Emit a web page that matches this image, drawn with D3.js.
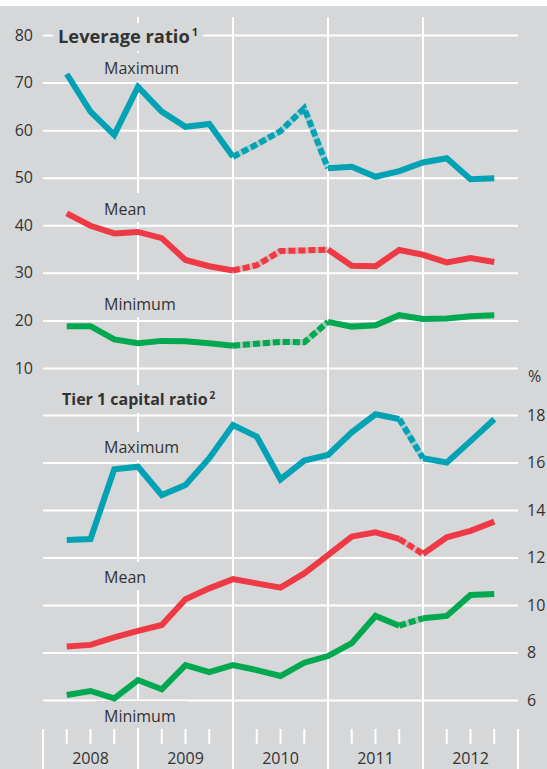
<!DOCTYPE html>
<html>
<head>
<meta charset="utf-8">
<script src="https://cdn.jsdelivr.net/npm/d3@7"></script>
<style>
  body { margin: 0; background: #fff; }
  text { font-family: "Open Sans", "Noto Sans", sans-serif; fill: #333; }
</style>
</head>
<body>
<script>
var width = 547;
var height = 769;

// quarters, Q1 2008 .. Q3 2012 (points plotted at quarter end)
var quarters = ['2008Q1', '2008Q2', '2008Q3', '2008Q4', '2009Q1', '2009Q2', '2009Q3', '2009Q4',
    '2010Q1', '2010Q2', '2010Q3', '2010Q4', '2011Q1', '2011Q2', '2011Q3', '2011Q4',
    '2012Q1', '2012Q2', '2012Q3'];
var years = [2008, 2009, 2010, 2011, 2012];

// leverage ratio
var levMax = [71.8, 63.9, 59.0, 69.1, 63.9, 60.7, 61.3, 54.4, 57.0, 59.8, 64.6, 52.0, 52.3, 50.2, 51.4, 53.2, 54.1, 49.7, 49.9];
var levMean = [42.5, 39.9, 38.3, 38.6, 37.3, 32.7, 31.4, 30.5, 31.6, 34.6, 34.7, 34.9, 31.5, 31.4, 34.8, 33.8, 32.2, 33.1, 32.3];
var levMin = [18.8, 18.8, 16.0, 15.2, 15.7, 15.6, 15.2, 14.7, 15.1, 15.5, 15.4, 19.7, 18.7, 19.0, 21.1, 20.3, 20.4, 20.9, 21.1];
var levTicks = [10, 20, 30, 40, 50, 60, 70, 80];

// tier 1 capital ratio
var t1Max = [12.74, 12.78, 15.71, 15.82, 14.63, 15.05, 16.18, 17.58, 17.09, 15.29, 16.08, 16.32, 17.27, 18.03, 17.83, 16.18, 16.0, 16.9, 17.82];
var t1Mean = [8.25, 8.32, 8.64, 8.91, 9.16, 10.24, 10.70, 11.09, 10.91, 10.73, 11.33, 12.1, 12.88, 13.06, 12.78, 12.15, 12.85, 13.12, 13.51];
var t1Min = [6.21, 6.38, 6.07, 6.84, 6.45, 7.47, 7.17, 7.47, 7.26, 7.01, 7.57, 7.85, 8.39, 9.54, 9.13, 9.44, 9.54, 10.42, 10.46];
var t1Ticks = [6, 8, 10, 12, 14, 16, 18];

// break (estimated) segments, index from..to
var levBreak = [7, 11];
var t1Break = [14, 15];

var colors = { max: '#00a2b3', mean: '#ee3a45', min: '#00a850' };
var bg = '#d6d7d9';

var svg = d3.select('body')
    .append('svg')
    .attr('width', width)
    .attr('height', height);

svg.append('rect')
    .attr('x', 0).attr('y', 6)
    .attr('width', width).attr('height', height - 6)
    .attr('fill', bg);

var x = d3.scaleLinear().domain([2008, 2013]).range([43, 518]);
var yTop = d3.scaleLinear().domain([10, 80]).range([368, 35]);
var yBot = d3.scaleLinear().domain([6, 18]).range([700, 415]);

function qx(q) {
    return x(+q.slice(0, 4) + (+q.slice(5)) / 4);
}

// horizontal grid + tick labels
var axTop = svg.append('g')
    .attr('transform', 'translate(' + x(2013) + ',0)')
    .call(d3.axisLeft(yTop).tickValues(levTicks).tickSize(x(2013) - x(2008)).tickPadding(10));
var axBot = svg.append('g')
    .attr('transform', 'translate(' + x(2008) + ',0)')
    .call(d3.axisRight(yBot).tickValues(t1Ticks).tickSize(x(2013) - x(2008)).tickPadding(9));

[axTop, axBot].forEach(function (g) {
    g.select('.domain').remove();
    g.selectAll('.tick line').attr('stroke', '#fff').attr('stroke-width', 2);
    g.selectAll('.tick text')
        .style('font-size', '16px')
        .style('font-family', '"Open Sans", sans-serif')
        .attr('fill', '#333');
});

// year separators
svg.selectAll('line.year')
    .data(years.slice(1))
    .enter()
    .append('line')
    .attr('x1', function (d) { return x(d); })
    .attr('x2', function (d) { return x(d); })
    .attr('y1', 17)
    .attr('y2', height)
    .attr('stroke', '#fff')
    .attr('stroke-width', 2);

// bottom ticks
var qTicks = d3.range(0, 21).map(function (i) { return 2008 + i / 4; });
svg.selectAll('line.qtick')
    .data(qTicks)
    .enter()
    .append('line')
    .attr('x1', function (d) { return x(d); })
    .attr('x2', function (d) { return x(d); })
    .attr('y1', 729)
    .attr('y2', function (d, i) { return i % 4 === 0 ? height : 744; })
    .attr('stroke', '#fff')
    .attr('stroke-width', 2);

svg.selectAll('text.year')
    .data(years)
    .enter()
    .append('text')
    .attr('x', function (d) { return x(d + 0.5); })
    .attr('y', 764)
    .attr('text-anchor', 'middle')
    .style('font-size', '16px')
    .text(function (d) { return d; });

svg.append('text')
    .attr('x', 528)
    .attr('y', 382)
    .style('font-size', '16px')
    .text('%');

// label boxes (knock out grid behind labels)
var labels = [
    { text: 'Maximum', x: 104, y: 74, box: [95, 53, 92, 28] },
    { text: 'Mean', x: 104, y: 215, box: [95, 193, 92, 29] },
    { text: 'Minimum', x: 104, y: 310, box: [95, 280, 92, 37] },
    { text: 'Maximum', x: 104, y: 453, box: [95, 432, 92, 28] },
    { text: 'Mean', x: 104, y: 583, box: [95, 562, 92, 28] },
    { text: 'Minimum', x: 104, y: 722, box: [95, 701, 92, 27] }
];

svg.selectAll('rect.lbox')
    .data(labels)
    .enter()
    .append('rect')
    .attr('x', function (d) { return d.box[0]; })
    .attr('y', function (d) { return d.box[1]; })
    .attr('width', function (d) { return d.box[2]; })
    .attr('height', function (d) { return d.box[3]; })
    .attr('fill', bg);

svg.append('rect').attr('x', 53).attr('y', 23).attr('width', 150).attr('height', 28).attr('fill', bg);
svg.append('rect').attr('x', 53).attr('y', 385).attr('width', 172).attr('height', 28).attr('fill', bg);

// series
var line = d3.line()
    .x(function (d) { return d.x; })
    .y(function (d) { return d.y; });

function drawSeries(values, yScale, brk, color) {
    var pts = values.map(function (v, i) {
        return { x: qx(quarters[i]), y: yScale(v) };
    });
    var solid = [pts.slice(0, brk[0] + 1), pts.slice(brk[1])];
    var dashed = pts.slice(brk[0], brk[1] + 1);

    svg.append('path')
        .attr('d', line(dashed))
        .attr('fill', 'none')
        .attr('stroke', color)
        .attr('stroke-opacity', 0.25)
        .attr('stroke-width', 6);
    svg.append('path')
        .attr('d', line(dashed))
        .attr('fill', 'none')
        .attr('stroke', color)
        .attr('stroke-width', 6)
        .attr('stroke-dasharray', '7,3');
    solid.forEach(function (seg) {
        svg.append('path')
            .attr('d', line(seg))
            .attr('fill', 'none')
            .attr('stroke', color)
            .attr('stroke-width', 6);
    });
}

drawSeries(levMax, yTop, levBreak, colors.max);
drawSeries(levMean, yTop, levBreak, colors.mean);
drawSeries(levMin, yTop, levBreak, colors.min);
drawSeries(t1Max, yBot, t1Break, colors.max);
drawSeries(t1Mean, yBot, t1Break, colors.mean);
drawSeries(t1Min, yBot, t1Break, colors.min);

svg.selectAll('text.lbl')
    .data(labels)
    .enter()
    .append('text')
    .attr('x', function (d) { return d.x; })
    .attr('y', function (d) { return d.y; })
    .style('font-size', '16px')
    .text(function (d) { return d.text; });

// titles
var t1 = svg.append('text')
    .attr('x', 58)
    .attr('y', 43)
    .style('font-size', '18.3px')
    .style('font-weight', 'bold');
t1.append('tspan').text('Leverage ratio');
t1.append('tspan').attr('dx', 2).attr('dy', -7).style('font-size', '11px').text('1');

var t2 = svg.append('text')
    .attr('x', 62)
    .attr('y', 405)
    .style('font-size', '16px')
    .style('font-weight', 'bold');
t2.append('tspan').text('Tier 1 capital ratio');
t2.append('tspan').attr('dx', 2).attr('dy', -6).style('font-size', '10px').text('2');
</script>
</body>
</html>
